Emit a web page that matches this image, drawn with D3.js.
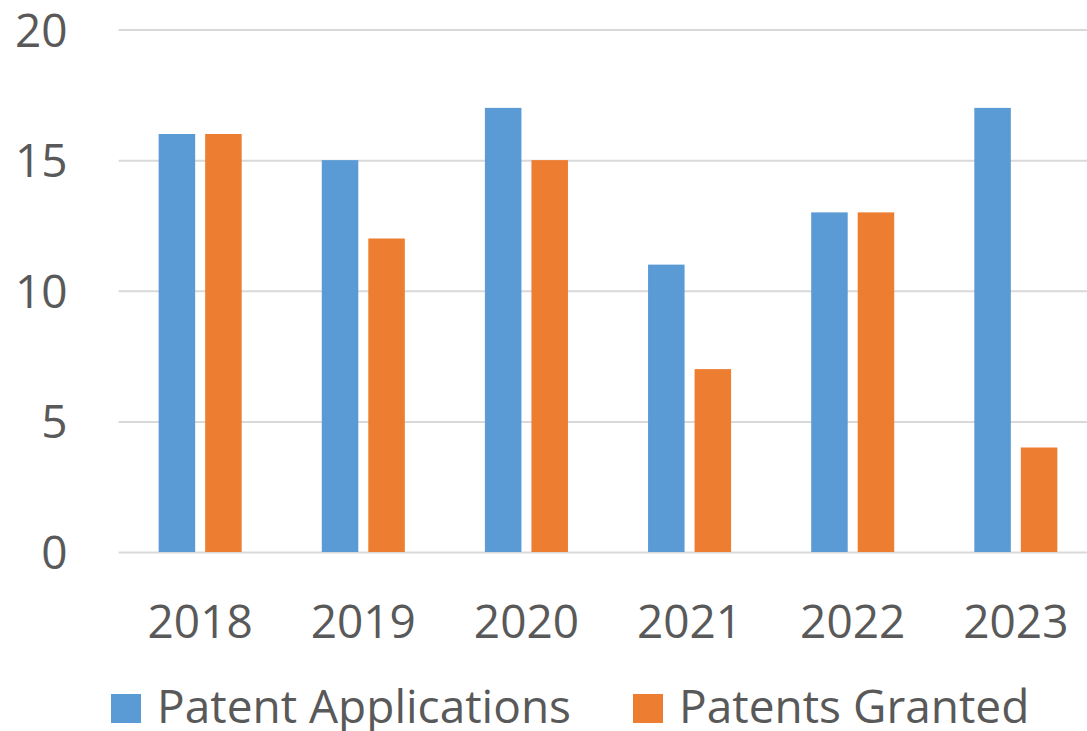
<!DOCTYPE html>
<html>
<head>
<meta charset="utf-8">
<script src="https://cdn.jsdelivr.net/npm/d3@7"></script>
<style>
  html, body { margin: 0; padding: 0; background: #fff; }
  #container { width: 1087px; height: 731px; }
  text { font-family: "Open Sans", "Noto Sans", sans-serif; fill: #595959; }
</style>
</head>
<body>
<div id="container"></div>
<script>
const years = ["2018", "2019", "2020", "2021", "2022", "2023"];
const seriesNames = ["Patent Applications", "Patents Granted"];
const applications = [16, 15, 17, 11, 13, 17];
const granted = [16, 12, 15, 7, 13, 4];
const yTicks = [0, 5, 10, 15, 20];
const colors = ["#5B9BD5", "#ED7D31"];

const container = document.getElementById("container");
const canvas_w = 1087, canvas_h = 731;

const svg = d3.select(container)
    .append("svg")
    .attr("width", canvas_w)
    .attr("height", canvas_h);

const plotLeft = 118.6, plotRight = 1097.4, plotTop = 29.5, plotBottom = 552;

const x = d3.scaleBand()
    .domain(years)
    .range([plotLeft, plotRight])
    .paddingInner(0.491)
    .paddingOuter(0.2455);

const xs = d3.scaleBand()
    .domain(seriesNames)
    .range([0, x.bandwidth()])
    .paddingInner(0.215);

const y = d3.scaleLinear()
    .domain([0, 20])
    .range([plotBottom, plotTop]);

// grid + y labels
const yAxis = svg.append("g")
    .attr("transform", `translate(${plotLeft},0)`)
    .call(d3.axisLeft(y).tickValues(yTicks).tickSize(-(canvas_w - plotLeft)).tickPadding(51));
yAxis.select(".domain").remove();
yAxis.selectAll("line").attr("stroke", "#D9D9D9").attr("stroke-width", 2);
yAxis.selectAll("text")
    .attr("font-size", 46)
    .attr("fill", "#595959")
    .attr("font-family", "'Open Sans', sans-serif")
    .attr("dy", "0.36em");

// bars
const rows = years.map((yr, i) => ({ year: yr, values: [applications[i], granted[i]] }));

svg.append("g").selectAll("g")
    .data(rows)
    .enter()
    .append("g")
    .attr("transform", d => `translate(${x(d.year)},0)`)
    .selectAll("rect")
    .data(d => d.values.map((v, k) => ({ key: seriesNames[k], value: v, k: k })))
    .enter()
    .append("rect")
    .attr("x", d => xs(d.key))
    .attr("width", xs.bandwidth())
    .attr("y", d => y(d.value))
    .attr("height", d => y(0) - y(d.value))
    .attr("fill", d => colors[d.k]);

// x labels
const xAxis = svg.append("g")
    .attr("transform", `translate(0,${plotBottom})`)
    .call(d3.axisBottom(x).tickSize(0).tickPadding(0));
xAxis.select(".domain").remove();
xAxis.selectAll("text")
    .attr("font-size", 46)
    .attr("fill", "#595959")
    .attr("font-family", "'Open Sans', sans-serif")
    .attr("y", 86)
    .attr("dy", 0);

// legend
const legendX = [111, 633];
const legend = svg.append("g").selectAll("g")
    .data(seriesNames)
    .enter()
    .append("g")
    .attr("transform", (d, i) => `translate(${legendX[i]},694)`);
legend.append("rect")
    .attr("width", 30)
    .attr("height", 29)
    .attr("fill", (d, i) => colors[i]);
legend.append("text")
    .attr("x", 46)
    .attr("y", 29)
    .attr("font-size", 46)
    .text(d => d);
</script>
</body>
</html>
